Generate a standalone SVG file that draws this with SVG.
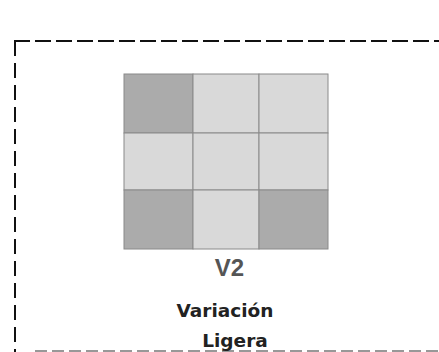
<svg xmlns="http://www.w3.org/2000/svg" width="439" height="352" viewBox="0 0 439 352">
<style>
.frame{fill:none;stroke:#111;stroke-width:2}
.cell{stroke:#8a8a8a;stroke-width:1}
.dk{fill:#ababab}
.lt{fill:#d9d9d9}
.lbl{font-family:"DejaVu Sans",sans-serif;font-weight:bold;font-size:18.5px;fill:#222;text-anchor:middle}
</style>
<g id="frame">
<line class="frame" x1="14" y1="41" x2="439" y2="41" stroke-dasharray="16 5"/>
<line class="frame" x1="15" y1="41" x2="15" y2="352" stroke-dasharray="15 7"/>
<line x1="35" y1="351" x2="439" y2="351" stroke="#777" stroke-width="1.5" stroke-dasharray="12 5"/>
</g>
<g id="grid">
<rect class="cell dk" x="124" y="74" width="69" height="59"/>
<rect class="cell lt" x="193" y="74" width="66" height="59"/>
<rect class="cell lt" x="259" y="74" width="69" height="59"/>
<rect class="cell lt" x="124" y="133" width="69" height="57"/>
<rect class="cell lt" x="193" y="133" width="66" height="57"/>
<rect class="cell lt" x="259" y="133" width="69" height="57"/>
<rect class="cell dk" x="124" y="190" width="69" height="59"/>
<rect class="cell lt" x="193" y="190" width="66" height="59"/>
<rect class="cell dk" x="259" y="190" width="69" height="59"/>
</g>
<g id="labels">
<text x="229.5" y="276" style="font-family:'Liberation Sans',Arial,sans-serif;font-weight:bold;font-size:24px;fill:#555;text-anchor:middle">V2</text>
<text class="lbl" x="225" y="317">Variación</text>
<text class="lbl" x="235" y="347">Ligera</text>
</g>
</svg>
